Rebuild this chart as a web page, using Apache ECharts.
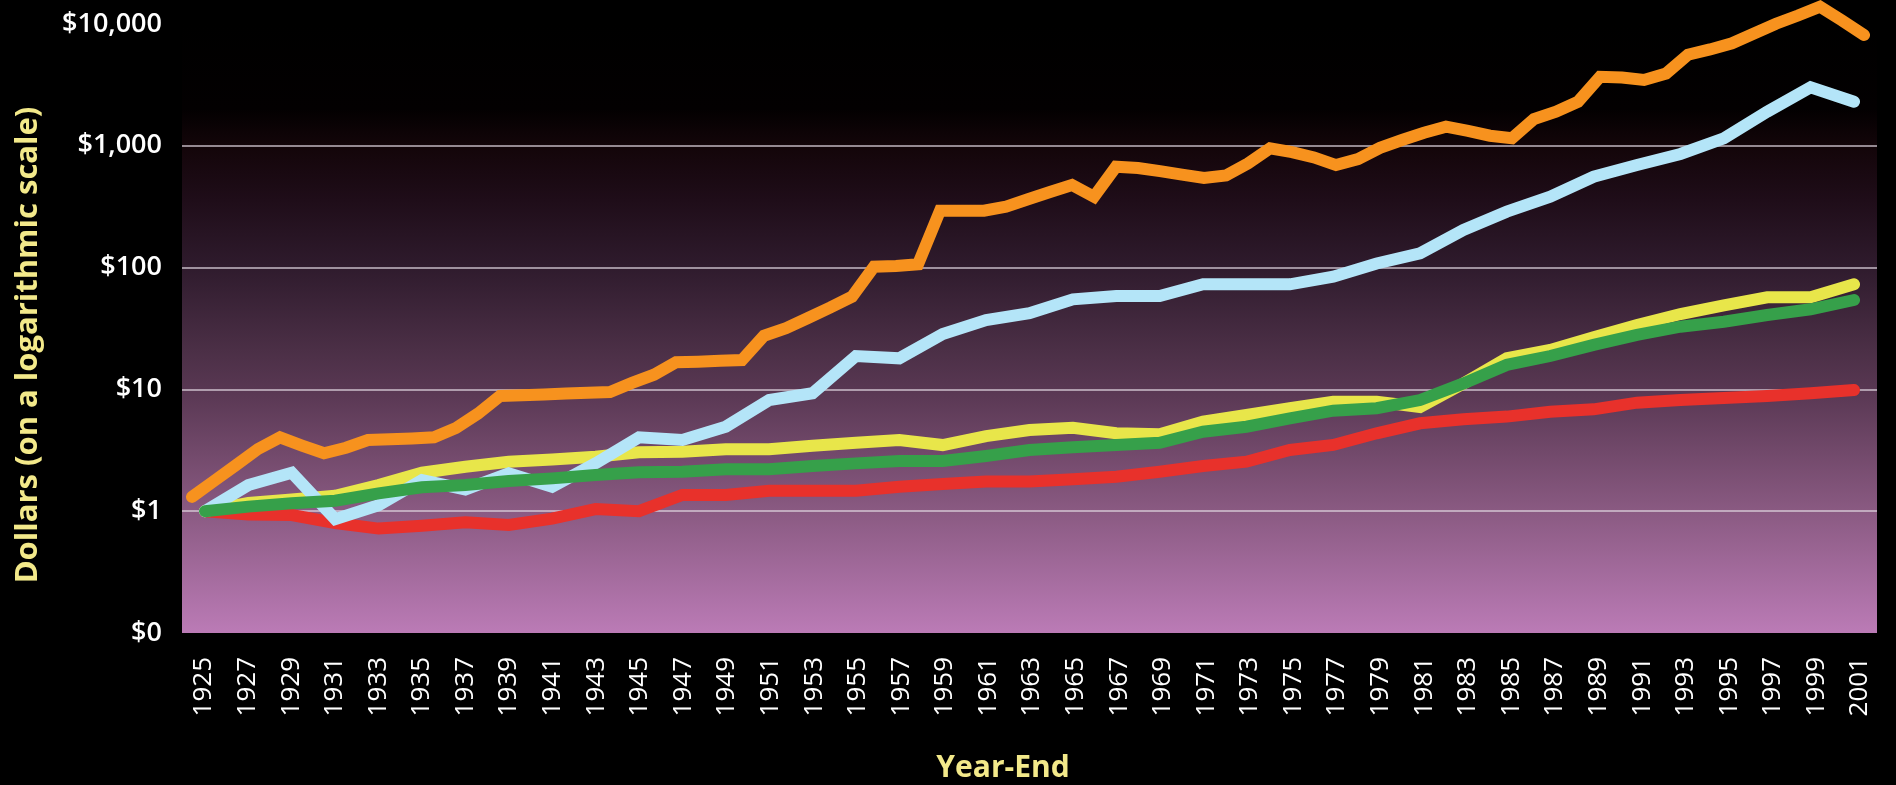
<!DOCTYPE html>
<html>
<head>
<meta charset="utf-8">
<script src="https://cdn.jsdelivr.net/npm/echarts@6/dist/echarts.min.js"></script>
<style>
html,body{margin:0;padding:0;background:#000;}
#chart{width:1896px;height:785px;}
</style>
</head>
<body>
<div id="chart"></div>
<script>
// ---- categories ----
const yearsOdd = [1925,1927,1929,1931,1933,1935,1937,1939,1941,1943,1945,1947,1949,1951,1953,1955,1957,1959,1961,1963,1965,1967,1969,1971,1973,1975,1977,1979,1981,1983,1985,1987,1989,1991,1993,1995,1997,1999,2001];
const yearsAll = [1925,1926,1927,1928,1929,1930,1931,1932,1933,1934,1935,1936,1937,1938,1939,1940,1941,1942,1943,1944,1945,1946,1947,1948,1949,1950,1951,1952,1953,1954,1955,1956,1957,1958,1959,1960,1961,1962,1963,1964,1965,1966,1967,1968,1969,1970,1971,1972,1973,1974,1975,1976,1977,1978,1979,1980,1981,1982,1983,1984,1985,1986,1987,1988,1989,1990,1991,1992,1993,1994,1995,1996,1997,1998,1999,2000,2001];

// ---- series values (dollars) ----
// orange line, one value per year
const orangeSeries = [1.31,1.77,2.39,3.24,4.04,3.46,2.99,3.32,3.84,3.90,
  3.96,4.04,4.82,6.33,8.83,8.95,9.09,9.25,9.39,9.52,
  11.3,13.2,16.7,16.9,17.2,17.4,27.6,31.8,38.6,46.9,
  57.7,101.7,103,106.4,293,293,293,317,364,417,
  476,382,673,658,619,580,545,570,717,954,
  886,803,695,778,963,1116,1279,1435,1325,1210,
  1153,1660,1905,2302,3690,3640,3470,3915,5600,6185,
  6940,8355,10060,11740,13870,10690,8130];
// light blue line, every other year
const blueSeries = [1.00,1.64,2.07,0.86,1.12,1.80,1.51,2.05,1.59,2.47,
  4.04,3.84,4.94,8.18,9.29,18.8,18.0,28.5,37.1,42.2,
  54.9,58.5,58.5,72.9,72.9,72.9,84.2,108,131,204,
  288,382,557,695,857,1153,1905,3020,2302];
// yellow line
const yellowSeries = [1.00,1.17,1.25,1.34,1.64,2.07,2.32,2.55,2.66,2.80,
  3.05,3.08,3.22,3.22,3.45,3.65,3.84,3.49,4.14,4.64,
  4.85,4.36,4.28,5.43,6.16,7.00,7.93,7.93,7.17,11.2,
  18.0,21.1,26.8,33.8,41.6,48.9,57.0,57.0,72.9];
// green line
const greenSeries = [1.00,1.09,1.16,1.22,1.40,1.57,1.64,1.77,1.86,1.98,
  2.09,2.11,2.21,2.21,2.35,2.47,2.58,2.58,2.84,3.18,
  3.35,3.50,3.65,4.49,4.94,5.78,6.69,7.00,8.18,11.2,
  15.9,18.8,23.2,28.0,32.7,35.9,40.8,45.5,54.2];
// red line
const redSeries = [1.00,0.94,0.93,0.80,0.72,0.76,0.81,0.77,0.87,1.04,
  1.00,1.36,1.36,1.47,1.47,1.47,1.59,1.67,1.75,1.75,
  1.83,1.92,2.11,2.35,2.55,3.18,3.50,4.36,5.27,5.69,
  5.98,6.56,6.86,7.78,8.18,8.50,8.82,9.29,9.89];

// ---- tick labels ----
const yTickValues = [0.1, 1, 10, 100, 1000, 10000];
const yTickLabels = ['$0', '$1', '$10', '$100', '$1,000', '$10,000'];

const yTitle = 'Dollars (on a logarithmic scale)';
const xTitle = 'Year-End';

const chart = echarts.init(document.getElementById('chart'), null, {renderer: 'canvas'});

const bg = new echarts.graphic.LinearGradient(0, 0, 0, 1, [
  {offset: 0.00, color: '#000000'},
  {offset: 0.14, color: '#030001'},
  {offset: 0.20, color: '#130509'},
  {offset: 0.29, color: '#1f0d19'},
  {offset: 0.40, color: '#2f1b2d'},
  {offset: 0.535, color: '#4b2f46'},
  {offset: 0.60, color: '#583752'},
  {offset: 0.80, color: '#8a5a82'},
  {offset: 1.00, color: '#bb7bb6'}
]);

function logAxis(idx, visible) {
  const ax = {
    gridIndex: idx, type: 'log', logBase: 10, min: 0.1, max: 10000
  };
  if (!visible) { ax.show = false; return ax; }
  ax.axisLine = {show: false};
  ax.axisTick = {show: false};
  ax.splitLine = {show: true, showMinLine: false, showMaxLine: false,
    lineStyle: {color: 'rgba(225,215,225,0.85)', width: 1.5}};
  ax.axisLabel = {
    margin: 20, color: '#ffffff', fontSize: 27, fontWeight: 600,
    fontFamily: '"Open Sans", "Noto Sans", sans-serif',
    formatter: function (v) {
      for (let i = 0; i < yTickValues.length; i++) {
        if (Math.abs(Math.log10(v) - Math.log10(yTickValues[i])) < 1e-6) return yTickLabels[i];
      }
      return '';
    }
  };
  return ax;
}

function lineSeries(name, data, color, xi) {
  return {
    name: name, type: 'line', data: data,
    xAxisIndex: xi, yAxisIndex: xi,
    showSymbol: false, symbol: 'none', clip: false, silent: true,
    lineStyle: {width: 12, color: color, cap: 'round', join: 'miter'},
    emphasis: {disabled: true}
  };
}

const option = {
  backgroundColor: '#000000',
  animation: false,
  grid: [
    {left: 182, right: 19, top: 24, bottom: 152, show: true, backgroundColor: bg, borderWidth: 0},
    {left: 205, right: 42, top: 24, bottom: 152},
    {left: 192, right: 32, top: 24, bottom: 152},
    {left: 204, right: 36, top: 24, bottom: 152}
  ],
  xAxis: [
    {gridIndex: 0, type: 'category', data: yearsOdd, show: false},
    {gridIndex: 1, type: 'category', data: yearsOdd, boundaryGap: false, show: false},
    {gridIndex: 2, type: 'category', data: yearsAll, boundaryGap: false, show: false},
    {gridIndex: 3, type: 'category', data: yearsOdd, boundaryGap: false,
      axisLine: {show: false}, axisTick: {show: false}, splitLine: {show: false},
      axisLabel: {interval: 0, rotate: 90, margin: 24, color: '#ffffff', fontSize: 26,
        fontFamily: '"Open Sans", "Noto Sans", sans-serif'}}
  ],
  yAxis: [logAxis(0, true), logAxis(1, false), logAxis(2, false), logAxis(3, false)],
  graphic: [
    {type: 'text', x: 28, y: 345, rotation: Math.PI / 2, silent: true,
      style: {text: yTitle, fill: '#f3e98a', fontSize: 31, fontWeight: 'bold',
        fontFamily: '"Open Sans", "Noto Sans", sans-serif', align: 'center', verticalAlign: 'middle'}},
    {type: 'text', x: 1003, y: 768, silent: true,
      style: {text: xTitle, fill: '#f3e98a', fontSize: 30, fontWeight: 'bold',
        fontFamily: '"Open Sans", "Noto Sans", sans-serif', align: 'center', verticalAlign: 'middle'}}
  ],
  series: [
    lineSeries('Red', redSeries, '#e8312b', 1),
    lineSeries('Yellow', yellowSeries, '#e8e64a', 1),
    lineSeries('Light blue', blueSeries, '#b4e5f8', 1),
    lineSeries('Green', greenSeries, '#36a04a', 1),
    lineSeries('Orange', orangeSeries, '#f7921e', 2)
  ]
};
chart.setOption(option);
</script>
</body>
</html>
